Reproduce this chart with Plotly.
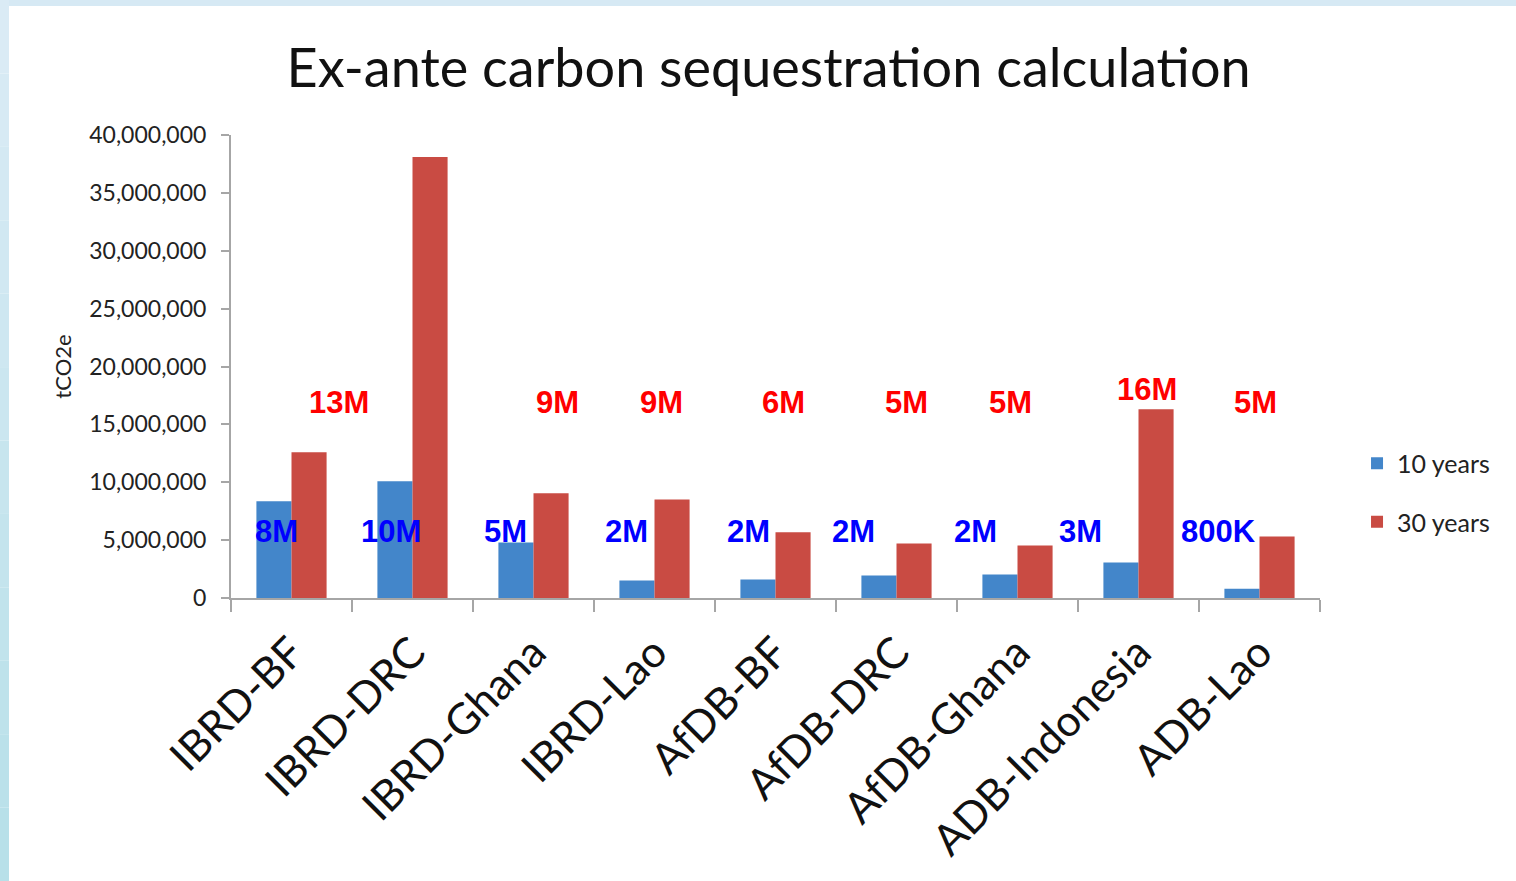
import plotly.graph_objects as go

# Projects and ex-ante sequestration estimates (tCO2e)
projects = ["IBRD-BF", "IBRD-DRC", "IBRD-Ghana", "IBRD-Lao", "AfDB-BF",
            "AfDB-DRC", "AfDB-Ghana", "ADB-Indonesia", "ADB-Lao"]
years_10 = [8350000, 10080000, 4800000, 1510000, 1600000,
            1950000, 2030000, 3070000, 800000]
years_30 = [12590000, 38100000, 9040000, 8520000, 5670000,
            4710000, 4540000, 16300000, 5320000]
y_ticks = [0, 5000000, 10000000, 15000000, 20000000,
           25000000, 30000000, 35000000, 40000000]


def short_label(v):
    if v < 1_000_000:
        return f"{round(v / 100_000) * 100}K"
    return f"{round(v / 1_000_000)}M"


W, H = 1516, 881
ML, MR, MT, MB = 231, 196, 135, 283

fig = go.Figure()
fig.add_bar(x=projects, y=years_10, name="10 years", legendgroup="a",
            marker=dict(color="#4386ca", line=dict(width=0)))
fig.add_bar(x=projects, y=years_30, name="30 years", legendgroup="b",
            marker=dict(color="#c94b43", line=dict(width=0)))

# Value callouts: label placement (pixel shift from category centre, height)
blue_shift = [-15, -22, -28, -28, -27, -43, -42, -58, -41]
red_shift = [47, 15, 24, 7, 8, 10, -7, 8, -4]
blue_y = 5750000
red_y = [16850000, 41550000, 16850000, 16850000, 16850000,
         16850000, 16850000, 18050000, 16850000]

annotations = []
for i, p in enumerate(projects):
    annotations.append(dict(x=p, y=blue_y, xshift=blue_shift[i], text=short_label(years_10[i]),
                            showarrow=False, font=dict(family="Liberation Sans", size=31,
                                                       color="#0000ff", weight="bold")))
    annotations.append(dict(x=p, y=red_y[i], xshift=red_shift[i], text=short_label(years_30[i]),
                            showarrow=False, font=dict(family="Liberation Sans", size=31,
                                                       color="#ff0000", weight="bold")))

# Light blue slide frame along the top and left edges
shapes = [dict(type="rect", xref="paper", yref="paper", xsizemode="pixel", ysizemode="pixel",
               xanchor=0, yanchor=0, x0=-ML, x1=W - ML, y0=H - MB - 6, y1=H - MB,
               fillcolor="#d6e9f4", line=dict(width=0), layer="below")]
bands = 12
top_c = (0xdc, 0xeb, 0xf6)
bot_c = (0xb6, 0xe0, 0xe8)
for k in range(bands):
    t = (k + 0.5) / bands
    c = tuple(round(top_c[j] + (bot_c[j] - top_c[j]) * t) for j in range(3))
    y_hi = (H - MB) - k * H / bands
    y_lo = (H - MB) - (k + 1) * H / bands
    shapes.append(dict(type="rect", xref="paper", yref="paper", xsizemode="pixel",
                       ysizemode="pixel", xanchor=0, yanchor=0, x0=-ML, x1=-ML + 9,
                       y0=y_lo, y1=y_hi, fillcolor="rgb(%d,%d,%d)" % c,
                       line=dict(width=0), layer="below"))

fig.update_layout(
    width=W, height=H,
    margin=dict(l=ML, r=MR, t=MT, b=MB),
    paper_bgcolor="white", plot_bgcolor="white",
    barmode="group", bargap=0.42, bargroupgap=0,
    font=dict(family="Lato", color="#222222"),
    title=dict(text="Ex-ante carbon sequestration calculation", x=0.507, xanchor="center",
               y=1 - 68 / H, yanchor="middle", font=dict(family="Lato", size=54, color="#111111")),
    legend=dict(x=1.034, y=0.34, xanchor="left", yanchor="top", font=dict(size=25, color="#222222"),
                tracegroupgap=23, bgcolor="rgba(0,0,0,0)", itemclick=False),
    annotations=annotations,
    shapes=shapes,
    xaxis=dict(showline=True, linecolor="#a6a6a6", linewidth=2, ticks="outside",
               tickson="boundaries", ticklen=12, tickcolor="#a6a6a6", tickwidth=2,
               tickangle=-45, tickfont=dict(family="Lato", size=43, color="#111111"),
               ticklabelstandoff=10, showgrid=False, zeroline=False),
    yaxis=dict(range=[0, 40000000], tickvals=y_ticks, tickformat=",d", showline=True,
               linecolor="#a6a6a6", linewidth=2, ticks="outside", ticklen=8,
               tickcolor="#a6a6a6", tickwidth=2, showgrid=False, zeroline=False,
               tickfont=dict(family="Lato", size=23, color="#222222"), ticklabelstandoff=10,
               title=dict(text="tCO2e", font=dict(family="Lato", size=22, color="#222222"),
                          standoff=12)),
)

fig.write_html("out.html")
